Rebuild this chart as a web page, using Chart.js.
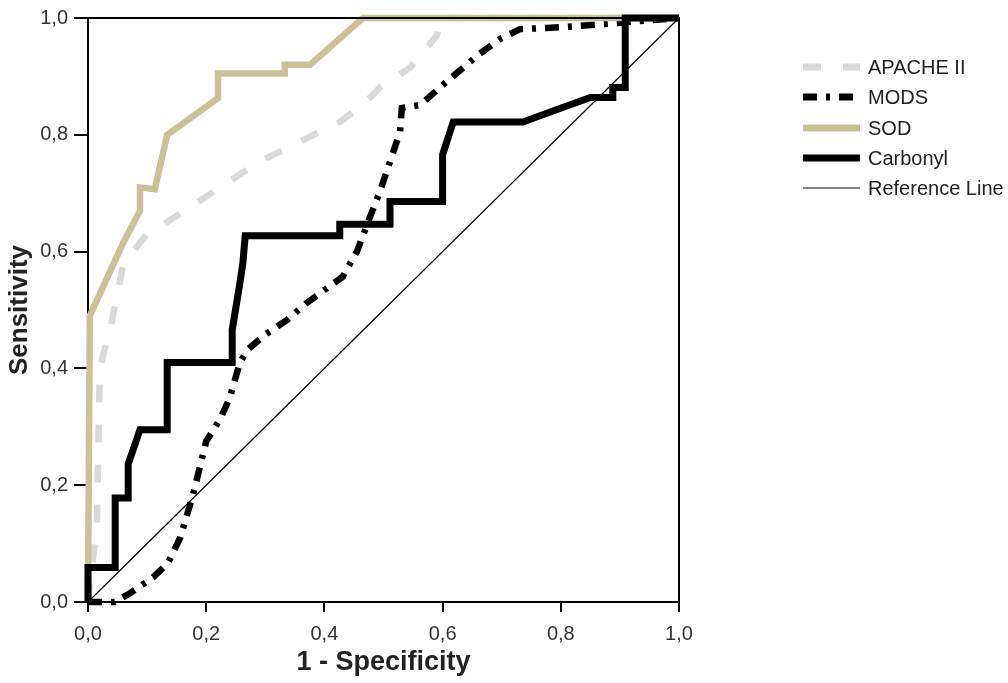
<!DOCTYPE html>
<html>
<head>
<meta charset="utf-8">
<style>
  html, body { margin: 0; padding: 0; background: #fff; }
  #wrap { width: 1008px; height: 683px; position: relative; }
</style>
<script src="https://cdn.jsdelivr.net/npm/chart.js@4/dist/chart.umd.min.js"></script>
</head>
<body>
<div id="wrap"><canvas id="roc"></canvas></div>
<script>
// ROC curves (x = 1 - specificity, y = sensitivity)
const apacheX = [0, 0.015, 0.02, 0.04, 0.06, 0.10, 0.127, 0.29, 0.426, 0.465, 0.494, 0.545, 0.59, 0.60, 1];
const apacheY = [0, 0.13, 0.40, 0.48, 0.58, 0.63, 0.646, 0.754, 0.822, 0.851, 0.881, 0.915, 0.97, 1, 1];

const modsX = [0, 0.025, 0.045, 0.071, 0.11, 0.135, 0.156, 0.178, 0.20, 0.224, 0.24, 0.257, 0.27, 0.30, 0.337, 0.37,
               0.431, 0.455, 0.477, 0.494, 0.511, 0.528, 0.531, 0.562, 0.60, 0.629, 0.663, 0.697, 0.731, 0.776, 0.827, 0.90, 1];
const modsY = [0, 0, 0, 0.015, 0.042, 0.066, 0.11, 0.185, 0.275, 0.314, 0.35, 0.41, 0.432, 0.458, 0.483, 0.512,
               0.557, 0.60, 0.659, 0.703, 0.754, 0.805, 0.846, 0.851, 0.885, 0.91, 0.939, 0.964, 0.981, 0.983, 0.986, 0.992, 1];

const sodX = [0, 0.003, 0.059, 0.088, 0.088, 0.113, 0.134, 0.22, 0.22, 0.333, 0.333, 0.376, 0.465, 1];
const sodY = [0, 0.49, 0.614, 0.67, 0.71, 0.707, 0.80, 0.863, 0.905, 0.905, 0.92, 0.92, 1, 1];

const carbX = [0, 0, 0.046, 0.046, 0.068, 0.068, 0.088, 0.134, 0.134, 0.244, 0.244, 0.257, 0.262, 0.266, 0.426, 0.426,
               0.511, 0.511, 0.60, 0.60, 0.618, 0.736, 0.76, 0.85, 0.888, 0.888, 0.909, 0.909, 1];
const carbY = [0, 0.059, 0.059, 0.178, 0.178, 0.236, 0.295, 0.295, 0.41, 0.41, 0.466, 0.546, 0.58, 0.627, 0.627, 0.647,
               0.647, 0.686, 0.686, 0.766, 0.822, 0.822, 0.831, 0.864, 0.864, 0.881, 0.881, 1, 1];

const refX = [0, 1];
const refY = [0, 1];

const seriesNames = ['APACHE II', 'MODS', 'SOD', 'Carbonyl', 'Reference Line'];
const tickValues  = [0, 0.2, 0.4, 0.6, 0.8, 1.0];

const pts = (xs, ys) => xs.map((x, i) => ({ x, y: ys[i] }));
const fmt = v => v.toFixed(1).replace('.', ',');

const FONT = '"Liberation Sans", Arial, sans-serif';

const lineSet = (label, data, color, width, dash, order) => ({
    label, data, order,
    showLine: true,
    borderColor: color,
    borderWidth: width,
    borderDash: dash,
    pointRadius: 0,
    tension: 0,
    fill: false,
    clip: 8,
});

const datasets = [
    lineSet(seriesNames[0], pts(apacheX, apacheY), '#d9d9d9', 6.5, [18, 22], 5),
    lineSet(seriesNames[1], pts(modsX, modsY),     '#000000', 6.5, [14, 9, 4, 9], 4),
    lineSet(seriesNames[2], pts(sodX, sodY),       '#c9c299', 6.5, [], 3),
    lineSet(seriesNames[3], pts(carbX, carbY),     '#000000', 7, [], 2),
    lineSet(seriesNames[4], pts(refX, refY),       '#000000', 1.2, [], 1),
];

// frame on top/right + legend drawn by hand at the right
const framePlugin = {
    id: 'frameAndLegend',
    afterDatasetsDraw(chart) {
        const { ctx, chartArea: a } = chart;
        ctx.save();
        ctx.strokeStyle = '#000';
        ctx.lineWidth = 2;
        ctx.beginPath();
        ctx.moveTo(a.left, a.top);
        ctx.lineTo(a.right, a.top);
        ctx.lineTo(a.right, a.bottom);
        ctx.stroke();
        ctx.restore();
    },
    afterDraw(chart) {
        const ctx = chart.ctx;
        const x0 = 803, x1 = 860, tx = 868;
        const rows = [67, 97, 128, 158, 188];
        ctx.save();
        chart.data.datasets.forEach((ds, i) => {
            const y = rows[i];
            ctx.strokeStyle = ds.borderColor;
            ctx.lineWidth = ds.borderWidth > 2 ? 7 : 1.2;
            ctx.setLineDash(ds.borderDash || []);
            ctx.beginPath();
            ctx.moveTo(x0, y);
            ctx.lineTo(x1, y);
            ctx.stroke();
            ctx.setLineDash([]);
            ctx.fillStyle = '#222';
            ctx.font = '20px ' + FONT;
            ctx.textBaseline = 'middle';
            ctx.fillText(ds.label, tx, y + 1);
        });
        ctx.restore();
    }
};

new Chart(document.getElementById('roc'), {
    type: 'scatter',
    data: { datasets },
    plugins: [framePlugin],
    options: {
        responsive: true,
        maintainAspectRatio: false,
        animation: false,
        layout: { padding: { left: 0, right: 329, top: 12, bottom: 0 } },
        plugins: { legend: { display: false }, tooltip: { enabled: false } },
        scales: {
            x: {
                type: 'linear', min: 0, max: 1,
                afterBuildTicks: s => { s.ticks = tickValues.map(v => ({ value: v })); },
                afterFit: s => { s.height = 81; },
                grid: { drawOnChartArea: false, drawTicks: true, tickLength: 10, color: '#000', lineWidth: 2 },
                border: { display: true, color: '#000', width: 2 },
                ticks: { callback: v => fmt(v), color: '#333', padding: 10, maxRotation: 0,
                         font: { family: FONT, size: 20 } },
                title: { display: true, text: '1 - Specificity', color: '#222',
                         padding: { top: 0, bottom: 4 },
                         font: { family: FONT, size: 27, weight: 'bold' } },
            },
            y: {
                type: 'linear', min: 0, max: 1,
                afterBuildTicks: s => { s.ticks = tickValues.map(v => ({ value: v })); },
                afterFit: s => { s.width = 88; },
                grid: { drawOnChartArea: false, drawTicks: true, tickLength: 14, color: '#000', lineWidth: 2 },
                border: { display: true, color: '#000', width: 2 },
                ticks: { callback: v => fmt(v), color: '#333', padding: 6,
                         font: { family: FONT, size: 20 } },
                title: { display: true, text: 'Sensitivity', color: '#222',
                         padding: { top: 4, bottom: 0 },
                         font: { family: FONT, size: 26, weight: 'bold' } },
            },
        },
    },
});
</script>
</body>
</html>
